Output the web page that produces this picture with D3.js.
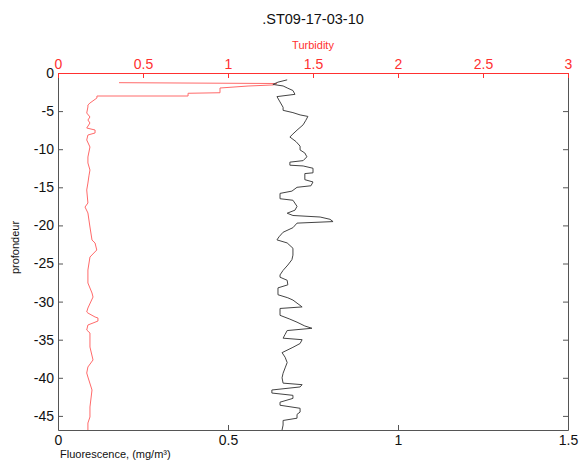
<!DOCTYPE html>
<html>
<head>
<meta charset="utf-8">
<script src="https://cdn.jsdelivr.net/npm/d3@7"></script>
<style>
  html, body { margin: 0; padding: 0; background: #fff; }
  svg { display: block; font-family: "Liberation Sans", Arial, sans-serif; }
</style>
</head>
<body>
<svg id="chart" width="579" height="461"></svg>
<script>
// ---- data ----
const titleText = ".ST09-17-03-10";
const yTicks = [0, -5, -10, -15, -20, -25, -30, -35, -40, -45];
const fluoTicks = [0, 0.5, 1, 1.5];
const turbTicks = [0, 0.5, 1, 1.5, 2, 2.5, 3];

const fluoDepth = [-0.9, -1.2, -1.5, -1.7, -2.0, -2.3, -2.8, -3.1, -3.8, -4.5, -4.9, -5.2, -5.5, -5.7, -6.2, -6.8, -7.5, -8.0, -8.4, -9.0, -9.6, -10.1, -10.5, -11.0, -11.5, -11.7, -12.1, -12.2, -12.5, -13.1, -13.2, -14.0, -14.3, -14.8, -15.0, -15.5, -15.8, -16.5, -16.7, -17.5, -18.0, -18.4, -18.7, -18.9, -19.2, -19.5, -19.7, -20.3, -20.9, -21.5, -21.9, -22.3, -23.0, -23.9, -24.5, -25.2, -25.9, -26.5, -26.8, -27.2, -27.8, -28.2, -29.1, -29.5, -29.8, -30.3, -30.7, -30.9, -31.8, -32.3, -32.7, -33.2, -33.5, -33.8, -34.3, -34.8, -35.0, -35.5, -36.0, -36.7, -37.3, -38.0, -38.7, -39.4, -40.0, -40.7, -40.9, -41.2, -41.6, -42.0, -42.3, -42.7, -43.2, -43.6, -44.0, -44.5, -44.8, -45.3, -45.6, -46.2, -46.85];
const fluoValues = [0.674, 0.647, 0.632, 0.662, 0.676, 0.691, 0.697, 0.644, 0.653, 0.662, 0.662, 0.691, 0.712, 0.735, 0.729, 0.721, 0.703, 0.691, 0.682, 0.700, 0.712, 0.712, 0.726, 0.732, 0.721, 0.682, 0.682, 0.721, 0.750, 0.750, 0.726, 0.726, 0.750, 0.744, 0.703, 0.688, 0.653, 0.653, 0.691, 0.703, 0.697, 0.674, 0.691, 0.771, 0.800, 0.809, 0.703, 0.691, 0.662, 0.650, 0.644, 0.674, 0.691, 0.691, 0.688, 0.676, 0.662, 0.653, 0.653, 0.674, 0.676, 0.647, 0.647, 0.676, 0.691, 0.706, 0.718, 0.653, 0.653, 0.682, 0.703, 0.726, 0.747, 0.674, 0.668, 0.662, 0.718, 0.712, 0.691, 0.659, 0.668, 0.674, 0.668, 0.662, 0.659, 0.662, 0.718, 0.712, 0.629, 0.629, 0.691, 0.691, 0.653, 0.653, 0.712, 0.712, 0.703, 0.703, 0.662, 0.662, 0.659];

const turbDepth = [-1.27, -1.38, -1.57, -1.71, -1.97, -2.59, -2.66, -3.02, -3.02, -3.28, -3.94, -4.2, -4.46, -5.25, -5.77, -6.17, -6.56, -7.22, -7.48, -7.87, -8.14, -8.79, -9.71, -11.02, -11.81, -12.73, -13.5, -14.44, -15.35, -17.06, -17.59, -18.37, -20.21, -21.92, -22.31, -23.23, -24.15, -25.85, -27.56, -28.87, -29.4, -30.84, -31.36, -31.5, -32.02, -32.15, -32.55, -32.81, -33.07, -33.73, -34.12, -35.96, -37.66, -38.58, -39.37, -39.9, -41.6, -43.83, -45.14, -45.93, -46.85];
const turbValues = [0.359, 1.288, 1.265, 1.118, 0.953, 0.953, 0.765, 0.765, 0.229, 0.229, 0.188, 0.176, 0.176, 0.169, 0.188, 0.176, 0.188, 0.169, 0.218, 0.218, 0.176, 0.169, 0.188, 0.176, 0.176, 0.188, 0.182, 0.176, 0.169, 0.176, 0.159, 0.176, 0.188, 0.2, 0.218, 0.228, 0.188, 0.176, 0.176, 0.2, 0.206, 0.176, 0.169, 0.176, 0.218, 0.235, 0.235, 0.206, 0.176, 0.169, 0.188, 0.188, 0.206, 0.176, 0.169, 0.176, 0.2, 0.188, 0.188, 0.176, 0.176];

// ---- layout ----
const L = 58, R = 568, T = 73, B = 430;
const svg = d3.select("#chart");

const xF = d3.scaleLinear().domain([0, 1.5]).range([L, R]);
const xT = d3.scaleLinear().domain([0, 3]).range([L, R]);
const y = d3.scaleLinear().domain([0, -46.85]).range([T, B]);

const axisColor = "#555";
const red = "#ff3030";

// data lines
const fluoData = fluoDepth.map((d, i) => [fluoValues[i], d]);
const turbData = turbDepth.map((d, i) => [turbValues[i], d]);

svg.append("path")
  .datum(turbData)
  .attr("fill", "none")
  .attr("stroke", "#ff6a6a")
  .attr("stroke-width", 1)
  .attr("d", d3.line().x(d => xT(d[0])).y(d => y(d[1])));

svg.append("path")
  .datum(fluoData)
  .attr("fill", "none")
  .attr("stroke", "#444")
  .attr("stroke-width", 1)
  .attr("d", d3.line().x(d => xF(d[0])).y(d => y(d[1])));

// axes
function styleAxis(g, color, fontSize) {
  g.selectAll("path").attr("stroke", color);
  g.selectAll("line").attr("stroke", color);
  g.selectAll("text").attr("fill", color === red ? red : "#111")
    .style("font-size", fontSize + "px")
    .style("font-family", "'Liberation Sans', Arial, sans-serif");
}

const gLeft = svg.append("g").attr("transform", `translate(${L},0)`)
  .call(d3.axisLeft(y).tickValues(yTicks).tickFormat(d => String(d)).tickSize(-5).tickSizeOuter(0).tickPadding(4));
styleAxis(gLeft, axisColor, 14);

const gRight = svg.append("g").attr("transform", `translate(${R},0)`)
  .call(d3.axisRight(y).tickValues(yTicks).tickFormat("").tickSize(-5).tickSizeOuter(0));
styleAxis(gRight, axisColor, 14);

const gBottom = svg.append("g").attr("transform", `translate(0,${B})`)
  .call(d3.axisBottom(xF).tickValues(fluoTicks).tickFormat(d => String(d)).tickSize(-5).tickSizeOuter(0).tickPadding(5));
styleAxis(gBottom, axisColor, 14);

const gTop = svg.append("g").attr("transform", `translate(0,${T})`)
  .call(d3.axisTop(xT).tickValues(turbTicks).tickFormat(d => String(d)).tickSize(-5).tickSizeOuter(0).tickPadding(4));
styleAxis(gTop, red, 14);

// labels
svg.append("text")
  .attr("x", (L + R) / 2).attr("y", 24)
  .attr("text-anchor", "middle")
  .style("font-size", "14.5px").attr("fill", "#111")
  .text(titleText);

svg.append("text")
  .attr("x", (L + R) / 2).attr("y", 49)
  .attr("text-anchor", "middle")
  .style("font-size", "11px").attr("fill", red)
  .text("Turbidity");

svg.append("text")
  .attr("x", 60).attr("y", 458)
  .attr("text-anchor", "start")
  .style("font-size", "11px").attr("fill", "#111")
  .text("Fluorescence, (mg/m³)");

svg.append("text")
  .attr("transform", `translate(19,${(T + B) / 2 - 4}) rotate(-90)`)
  .attr("text-anchor", "middle")
  .style("font-size", "11px").attr("fill", "#111")
  .text("profondeur");
</script>
</body>
</html>
